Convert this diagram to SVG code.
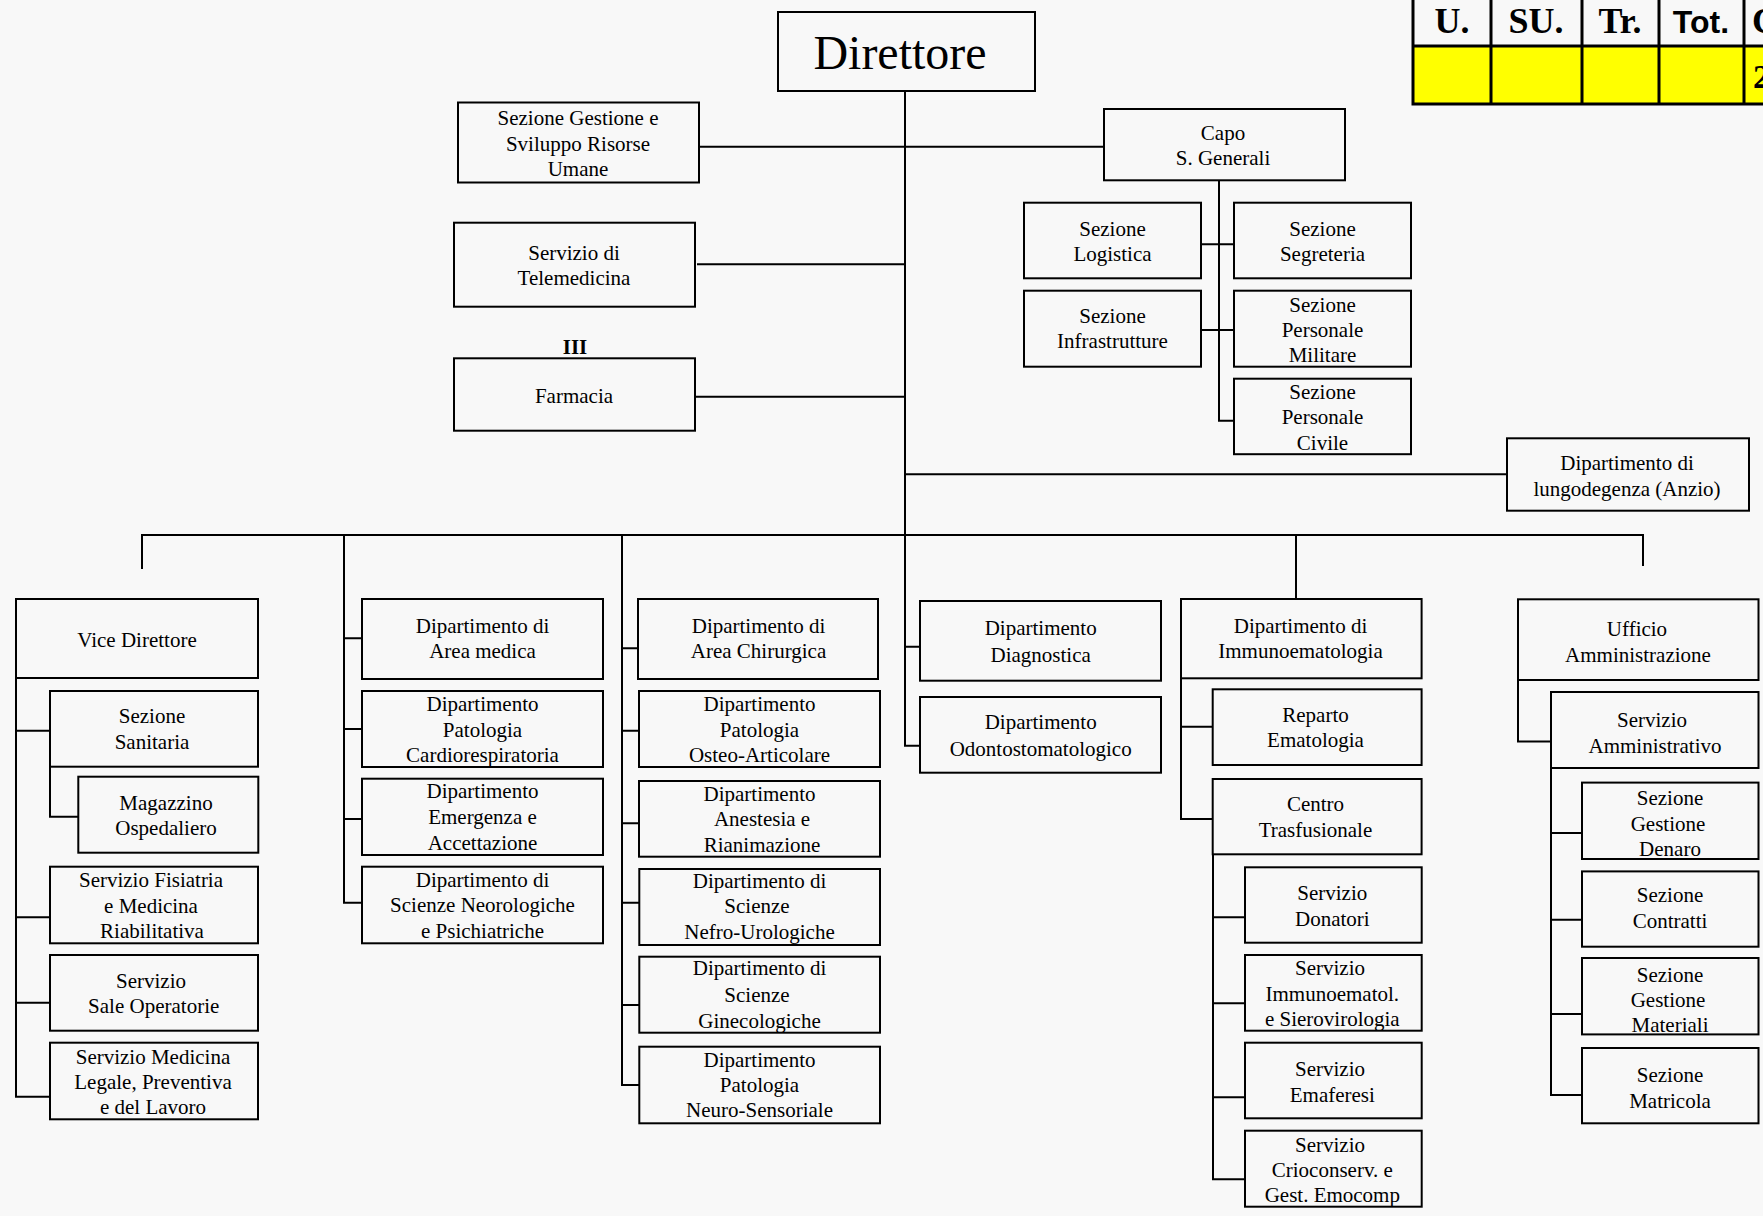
<svg xmlns="http://www.w3.org/2000/svg" width="1763" height="1216" viewBox="0 0 1763 1216">
<style>
.b{fill:none;stroke:#000;stroke-width:2}
.c{fill:none;stroke:#000;stroke-width:2}
text{font-family:"Liberation Serif","Times New Roman",serif;font-size:21px;fill:#000;text-anchor:middle}
.big{font-size:48px}
.bold{font-weight:bold}
.th{font-size:36px;font-weight:bold}
.ths{font-family:"Liberation Sans",Arial,sans-serif;font-size:32px;font-weight:bold}
.tl{stroke:#000;stroke-width:3;fill:none}
</style>
<rect x="0" y="0" width="1763" height="1216" fill="#f8f8f8"/>

<g id="table">
<rect x="1413" y="46" width="352" height="58" fill="#ffff00"/>
<path class="tl" d="M1413,0V104H1765M1413,46H1765M1491,0V104M1582,0V104M1659,0V104M1744,0V104"/>
<text class="th" x="1452" y="33">U.</text>
<text class="th" x="1536" y="33">SU.</text>
<text class="th" x="1620" y="33">Tr.</text>
<text class="ths" x="1701" y="33">Tot.</text>
<text class="th" x="1752" y="33" style="text-anchor:start">C</text>
<text class="th" x="1753" y="88" style="text-anchor:start;font-size:34px">2</text>
</g>

<g id="connectors">
<path class="c" d="M905,91V535"/>
<path class="c" d="M699,146.7H1104"/>
<path class="c" d="M697,264.3H905"/>
<path class="c" d="M695,396.7H905"/>
<path class="c" d="M905,474.3H1507"/>
<path class="c" d="M1219,180V420.7H1234M1201,244.3H1234M1201,330H1234"/>
<path class="c" d="M142,569V535H1643V566"/>
<path class="c" d="M1296,535V599"/>
<path class="c" d="M16,678V1096.7H50M16,730.7H50M16,917.3H50M16,1002.7H50"/>
<path class="c" d="M50,766.7V816.7H78"/>
<path class="c" d="M344,535V902.7H362M344,638.3H362M344,729H362M344,819H362"/>
<path class="c" d="M622,535V1085H639M622,648.3H638M622,730.7H639M622,823.3H639M622,902.7H639M622,1005H639"/>
<path class="c" d="M905,535V745.7H920M905,646.7H920"/>
<path class="c" d="M1181,678V819H1213M1181,726.7H1213"/>
<path class="c" d="M1213,854V1179.3H1245M1213,917.3H1245M1213,1003.3H1245M1213,1097.3H1245"/>
<path class="c" d="M1518,680V741.6H1551"/>
<path class="c" d="M1551,768V1095H1582M1551,833H1582M1551,919.7H1582M1551,1014H1582"/>
</g>

<g id="direttore"><rect class="b" x="778" y="12" width="257" height="79"/><text class="big" x="900" y="69">Direttore</text></g>

<g id="sez-gestione-risorse"><rect class="b" x="458" y="102.5" width="241" height="80"/><text x="578"><tspan x="578" y="125">Sezione Gestione e</tspan><tspan x="578" y="150.5">Sviluppo Risorse</tspan><tspan x="578" y="176">Umane</tspan></text></g>

<g id="telemedicina"><rect class="b" x="454" y="222.7" width="241" height="84"/><text><tspan x="574" y="260">Servizio di</tspan><tspan x="574" y="285">Telemedicina</tspan></text></g>

<g id="farmacia"><text class="bold" x="575" y="354">III</text><rect class="b" x="454" y="358.3" width="241" height="72.4"/><text x="574" y="402.7">Farmacia</text></g>

<g id="capo"><rect class="b" x="1104" y="109" width="241" height="71.3"/><text><tspan x="1223" y="140">Capo</tspan><tspan x="1223" y="164.5">S. Generali</tspan></text></g>

<g id="logistica"><rect class="b" x="1024" y="202.7" width="177" height="75.6"/><text><tspan x="1112.5" y="236">Sezione</tspan><tspan x="1112.5" y="261">Logistica</tspan></text></g>
<g id="segreteria"><rect class="b" x="1234" y="202.7" width="177" height="75.6"/><text><tspan x="1322.5" y="236">Sezione</tspan><tspan x="1322.5" y="261">Segreteria</tspan></text></g>
<g id="infrastrutture"><rect class="b" x="1024" y="290.7" width="177" height="76"/><text><tspan x="1112.5" y="323">Sezione</tspan><tspan x="1112.5" y="348">Infrastrutture</tspan></text></g>
<g id="pers-militare"><rect class="b" x="1234" y="290.7" width="177" height="76"/><text><tspan x="1322.5" y="311.7">Sezione</tspan><tspan x="1322.5" y="336.7">Personale</tspan><tspan x="1322.5" y="362">Militare</tspan></text></g>
<g id="pers-civile"><rect class="b" x="1234" y="378.7" width="177" height="75.5"/><text><tspan x="1322.5" y="399.3">Sezione</tspan><tspan x="1322.5" y="424.3">Personale</tspan><tspan x="1322.5" y="450">Civile</tspan></text></g>

<g id="lungodegenza"><rect class="b" x="1507" y="438.3" width="242" height="72.4"/><text><tspan x="1627" y="470">Dipartimento di</tspan><tspan x="1627" y="496">lungodegenza (Anzio)</tspan></text></g>

<g id="vice-direttore"><rect class="b" x="16" y="599" width="242" height="79"/><text x="137" y="646.7">Vice Direttore</text></g>
<g id="sanitaria"><rect class="b" x="50" y="691" width="208" height="75.7"/><text><tspan x="152" y="723.3">Sezione</tspan><tspan x="152" y="749.3">Sanitaria</tspan></text></g>
<g id="magazzino"><rect class="b" x="78.3" y="776.7" width="180" height="76"/><text><tspan x="166" y="810">Magazzino</tspan><tspan x="166" y="835">Ospedaliero</tspan></text></g>
<g id="fisiatria"><rect class="b" x="50" y="866.7" width="208" height="76.6"/><text><tspan x="151" y="887.3">Servizio Fisiatria</tspan><tspan x="151" y="912.7">e Medicina</tspan><tspan x="152" y="938.3">Riabilitativa</tspan></text></g>
<g id="sale-operatorie"><rect class="b" x="50" y="955" width="208" height="75.7"/><text><tspan x="151" y="988.3">Servizio</tspan><tspan x="153.7" y="1013.3">Sale Operatorie</tspan></text></g>
<g id="medicina-legale"><rect class="b" x="50" y="1042.7" width="208" height="76.6"/><text><tspan x="153" y="1064.3">Servizio Medicina</tspan><tspan x="153" y="1088.7">Legale, Preventiva</tspan><tspan x="153" y="1114.3">e del Lavoro</tspan></text></g>

<g id="area-medica"><rect class="b" x="362" y="599" width="241" height="80"/><text><tspan x="482.5" y="633.3">Dipartimento di</tspan><tspan x="482.5" y="658.3">Area medica</tspan></text></g>
<g id="cardio"><rect class="b" x="362" y="691" width="241" height="76"/><text><tspan x="482.5" y="711">Dipartimento</tspan><tspan x="482.5" y="736.7">Patologia</tspan><tspan x="482.5" y="762.3">Cardiorespiratoria</tspan></text></g>
<g id="emergenza"><rect class="b" x="362" y="778.7" width="241" height="76.3"/><text><tspan x="482.5" y="798.3">Dipartimento</tspan><tspan x="482.5" y="824">Emergenza e</tspan><tspan x="482.5" y="850">Accettazione</tspan></text></g>
<g id="neurologiche"><rect class="b" x="362" y="866.7" width="241" height="76.6"/><text><tspan x="482.5" y="886.7">Dipartimento di</tspan><tspan x="482.5" y="912.3">Scienze Neorologiche</tspan><tspan x="482.5" y="937.7">e Psichiatriche</tspan></text></g>

<g id="area-chirurgica"><rect class="b" x="638" y="599" width="240" height="80"/><text><tspan x="758.5" y="633.3">Dipartimento di</tspan><tspan x="758.5" y="658.3">Area Chirurgica</tspan></text></g>
<g id="osteo"><rect class="b" x="639" y="691" width="241" height="76"/><text><tspan x="759.5" y="711">Dipartimento</tspan><tspan x="759.5" y="736.7">Patologia</tspan><tspan x="759.5" y="762.3">Osteo-Articolare</tspan></text></g>
<g id="anestesia"><rect class="b" x="639" y="781" width="241" height="75.7"/><text><tspan x="759.5" y="801">Dipartimento</tspan><tspan x="762" y="826">Anestesia e</tspan><tspan x="762" y="851.7">Rianimazione</tspan></text></g>
<g id="nefro"><rect class="b" x="639.3" y="869" width="240.7" height="76"/><text><tspan x="759.5" y="887.7">Dipartimento di</tspan><tspan x="757" y="913.3">Scienze</tspan><tspan x="759.5" y="939.3">Nefro-Urologiche</tspan></text></g>
<g id="gineco"><rect class="b" x="639.3" y="956.7" width="240.7" height="76"/><text><tspan x="759.5" y="975">Dipartimento di</tspan><tspan x="757" y="1001.7">Scienze</tspan><tspan x="759.5" y="1027.7">Ginecologiche</tspan></text></g>
<g id="neuro-sensoriale"><rect class="b" x="639.3" y="1046.7" width="240.7" height="76.6"/><text><tspan x="759.5" y="1066.7">Dipartimento</tspan><tspan x="759.5" y="1091.7">Patologia</tspan><tspan x="759.5" y="1116.7">Neuro-Sensoriale</tspan></text></g>

<g id="diagnostica"><rect class="b" x="920" y="601" width="241" height="79.7"/><text><tspan x="1040.7" y="635">Dipartimento</tspan><tspan x="1040.7" y="661.7">Diagnostica</tspan></text></g>
<g id="odonto"><rect class="b" x="920" y="697" width="241" height="75.7"/><text><tspan x="1040.7" y="729.3">Dipartimento</tspan><tspan x="1040.7" y="755.7">Odontostomatologico</tspan></text></g>

<g id="immunoematologia"><rect class="b" x="1181" y="599" width="240.6" height="79.3"/><text><tspan x="1300.5" y="633.3">Dipartimento di</tspan><tspan x="1300.5" y="658.3">Immunoematologia</tspan></text></g>
<g id="ematologia"><rect class="b" x="1212.7" y="689.3" width="208.9" height="75.7"/><text><tspan x="1315.5" y="721.7">Reparto</tspan><tspan x="1315.5" y="746.7">Ematologia</tspan></text></g>
<g id="trasfusionale"><rect class="b" x="1212.7" y="779" width="208.9" height="75.3"/><text><tspan x="1315.5" y="811">Centro</tspan><tspan x="1315.5" y="836.7">Trasfusionale</tspan></text></g>
<g id="donatori"><rect class="b" x="1245" y="867.3" width="176.7" height="75.4"/><text><tspan x="1332.3" y="900">Servizio</tspan><tspan x="1332.3" y="926">Donatori</tspan></text></g>
<g id="immunoematol"><rect class="b" x="1245" y="955" width="176.7" height="75.7"/><text><tspan x="1330" y="975">Servizio</tspan><tspan x="1332.3" y="1000.7">Immunoematol.</tspan><tspan x="1332.3" y="1026">e Sierovirologia</tspan></text></g>
<g id="emaferesi"><rect class="b" x="1245" y="1042.7" width="176.7" height="75.6"/><text><tspan x="1330" y="1076">Servizio</tspan><tspan x="1332.3" y="1101.7">Emaferesi</tspan></text></g>
<g id="crioconserv"><rect class="b" x="1245" y="1130.7" width="176.7" height="76"/><text><tspan x="1330" y="1151.7">Servizio</tspan><tspan x="1332.3" y="1176.7">Crioconserv. e</tspan><tspan x="1332.3" y="1201.7">Gest. Emocomp</tspan></text></g>

<g id="ufficio-amm"><rect class="b" x="1518" y="599.3" width="240.5" height="80.7"/><text><tspan x="1637" y="636">Ufficio</tspan><tspan x="1638" y="662">Amministrazione</tspan></text></g>
<g id="servizio-amm"><rect class="b" x="1551" y="692" width="207.5" height="76"/><text><tspan x="1652" y="727">Servizio</tspan><tspan x="1655" y="753">Amministrativo</tspan></text></g>
<g id="denaro"><rect class="b" x="1582" y="782.6" width="176.5" height="76.4"/><text><tspan x="1670" y="805">Sezione</tspan><tspan x="1668" y="831">Gestione</tspan><tspan x="1670" y="856">Denaro</tspan></text></g>
<g id="contratti"><rect class="b" x="1582" y="871.4" width="176.5" height="75.3"/><text><tspan x="1670" y="902">Sezione</tspan><tspan x="1670" y="928">Contratti</tspan></text></g>
<g id="materiali"><rect class="b" x="1582" y="958" width="176.5" height="76.4"/><text><tspan x="1670" y="982">Sezione</tspan><tspan x="1668" y="1007">Gestione</tspan><tspan x="1670" y="1032">Materiali</tspan></text></g>
<g id="matricola"><rect class="b" x="1582" y="1048" width="176.5" height="75.3"/><text><tspan x="1670" y="1082">Sezione</tspan><tspan x="1670" y="1108">Matricola</tspan></text></g>
</svg>
